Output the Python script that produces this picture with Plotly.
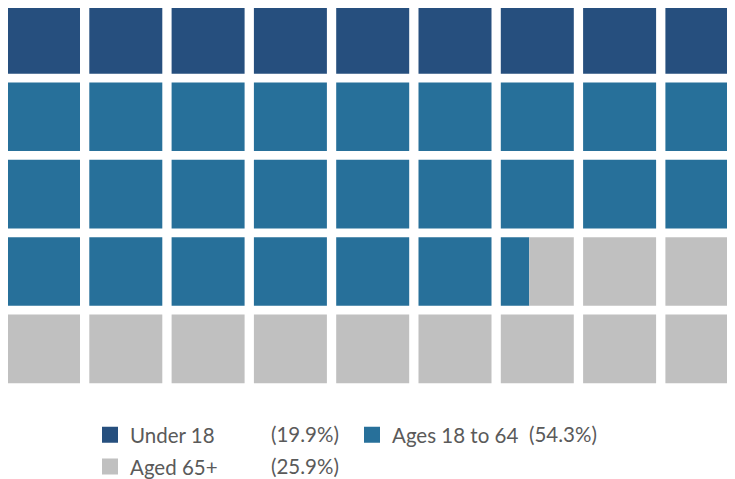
import plotly.graph_objects as go

categories = ["Under 18", "Ages 18 to 64", "Aged 65+"]
percents = [19.9, 54.3, 25.9]
colors = ["#264f7e", "#27709a", "#c0c0c0"]
legend_rows = ["legend", "legend", "legend2"]
n_rows = 5
n_cols = 9
cell_fill = 0.887  # square size relative to pitch

W, H = 735, 479
n_cells = n_rows * n_cols

# cumulative boundaries in "cell" units
bounds = []
acc = 0.0
for p in percents:
    lo = acc
    acc += p / 100.0 * n_cells
    bounds.append((lo, min(acc, n_cells)))

fig = go.Figure()
for cat, (lo, hi), col, lg in zip(categories, bounds, colors, legend_rows):
    ys, xs, bases = [], [], []
    for k in range(n_cells):
        s = max(k, lo)
        e = min(k + 1, hi)
        if e <= s:
            continue
        r, c = divmod(k, n_cols)
        ys.append(r)
        bases.append(c + (s - k) * cell_fill)
        xs.append((e - s) * cell_fill)
    fig.add_trace(go.Bar(
        y=ys, x=xs, base=bases, orientation="h", width=cell_fill,
        marker=dict(color=col, line=dict(width=0)), opacity=1,
        showlegend=False, hoverinfo="skip", name=cat,
    ))
    fig.add_trace(go.Scatter(
        x=[None], y=[None], mode="markers", name=cat,
        marker=dict(symbol="square", size=16, color=col),
        showlegend=True, legend=lg,
    ))

# pixel geometry of the grid (figure pixels)
col_pitch = 82.3
row_pitch = 77.8
left_px = -1
top_px = -3
plot_h = 382

x_range = [-left_px / col_pitch, (W - left_px) / col_pitch]
y_top = -(top_px + cell_fill * row_pitch / 2) / row_pitch
y_bottom = y_top + plot_h / row_pitch

FONT = "Lato"
FS = 20.5
TXT = "#5a5a5a"


def legend_at(top_px_fig):
    return dict(
        orientation="h", x=82 / W, xanchor="left",
        y=-(top_px_fig - plot_h) / plot_h, yanchor="top",
        entrywidth=217, entrywidthmode="pixels",
        font=dict(family=FONT, size=FS, color=TXT),
        bgcolor="rgba(0,0,0,0)", itemsizing="trace",
    )


fig.update_layout(
    width=W, height=H,
    margin=dict(l=0, r=0, t=0, b=H - plot_h),
    paper_bgcolor="white", plot_bgcolor="white",
    barmode="overlay",
    font=dict(family=FONT, size=FS, color=TXT),
    xaxis=dict(range=x_range, visible=False, fixedrange=True),
    yaxis=dict(range=[y_bottom, y_top], visible=False, fixedrange=True),
    legend=legend_at(409),
    legend2=legend_at(441),
)

pct_pos = [(261, 428.5), (519, 428.5), (261, 460.5)]
for p, (px, py) in zip(percents, pct_pos):
    fig.add_annotation(
        text=f"({p}%)", xref="paper", yref="paper",
        x=px / W, y=-(py - plot_h) / plot_h, xanchor="left", yanchor="middle",
        showarrow=False, font=dict(family=FONT, size=FS, color=TXT),
    )

fig.write_html("out.html")
